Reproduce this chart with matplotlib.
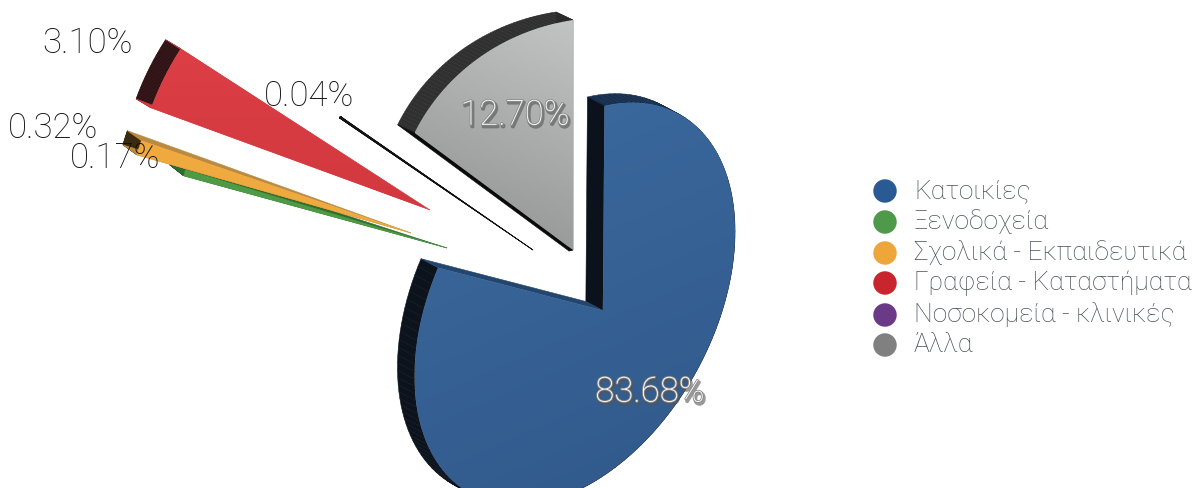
import numpy as np
import matplotlib
matplotlib.use("Agg")
import matplotlib.pyplot as plt
import matplotlib.patheffects as pe
from matplotlib.patches import Polygon
from matplotlib.colors import LinearSegmentedColormap

# Shares of building use, in percent
categories = ["Κατοικίες", "Ξενοδοχεία", "Σχολικά - Εκπαιδευτικά",
              "Γραφεία - Καταστήματα", "Νοσοκομεία - κλινικές", "Άλλα"]
values = [83.68, 0.17, 0.32, 3.10, 0.04, 12.70]
value_labels = ["83.68%", "0.17%", "0.32%", "3.10%", "0.04%", "12.70%"]
legend_colors = ["#2a5a94", "#4f9a4a", "#eea53a", "#c9252e", "#6a3a86", "#808080"]

W, H = 1193, 488
fig = plt.figure(figsize=(W / 100, H / 100), dpi=100)
ax = fig.add_axes([0, 0, 1, 1])
ax.set_axis_off()


def homography(src, dst):
    """Least-squares projective map from the pie plane to the canvas."""
    rows = []
    for (x, y), (u, v) in zip(src, dst):
        rows.append([x, y, 1, 0, 0, 0, -u * x, -u * y, -u])
        rows.append([0, 0, 0, x, y, 1, -v * x, -v * y, -v])
    return np.linalg.svd(np.array(rows))[2][-1].reshape(3, 3)


def clock(deg):
    a = np.radians(deg)
    return np.sin(a), np.cos(a)


# Camera for the main slice: where known plane directions land on the canvas
blue_end = values[0] * 3.6
camera = homography(
    [(0, 0), clock(0), clock(180), clock(blue_end), clock(blue_end - 180)],
    [(602, 310), (605, 106), (602, 477), (438, 268), (712, 339)],
)


def project(points):
    p = np.column_stack([points, np.ones(len(points))]) @ camera.T
    return p[:, :2] / p[:, 2:]


def gradient_fill(outline, c0, c1, direction, z):
    """Fill a polygon with a linear gradient running along `direction`."""
    x0, y0 = outline.min(axis=0)
    x1, y1 = outline.max(axis=0)
    xx, yy = np.meshgrid(np.linspace(0, 1, 64), np.linspace(0, 1, 64))
    grad = xx * direction[0] + yy * direction[1]
    grad = (grad - grad.min()) / (grad.max() - grad.min())
    cmap = LinearSegmentedColormap.from_list("fill", [c0, c1])
    im = ax.imshow(grad, extent=(x0, x1, y1, y0), cmap=cmap, origin="upper",
                   aspect="auto", zorder=z, interpolation="bilinear")
    patch = Polygon(outline, closed=True, transform=ax.transData,
                    facecolor="none", edgecolor="none")
    ax.add_patch(patch)
    im.set_clip_path(patch)


def quad(a, b, c, d, color, z):
    ax.add_patch(Polygon([a, b, c, d], closed=True, facecolor=color,
                         edgecolor=color, linewidth=0.4, zorder=z))


# Main slice: side walls first, then the gradient front
angles = np.linspace(0, blue_end, 160)
rim = project(np.column_stack(clock(angles)))
centre = project(np.array([[0.0, 0.0]]))[0]
depth = np.array([-17, -9])
for i in range(len(rim) - 1):
    shade = "#17304f" if angles[i] < 62 else "#0d131d"
    quad(rim[i], rim[i + 1], rim[i + 1] + depth, rim[i] + depth, shade, 3)
quad(centre, rim[0], rim[0] + depth, centre + depth, "#0c121c", 3.2)
quad(centre, rim[-1], rim[-1] + depth, centre + depth, "#23466f", 3.2)
gradient_fill(np.vstack([centre, rim]), "#3b6a9f", "#31588a", (0.35, 1), 4)


def exploded(value, tip, axis_deg, radii, spread):
    """Outline of a pulled-out slice; its opening follows the value."""
    half = value * 3.6 * spread / 2
    t = np.linspace(0, 1, 50)
    theta = np.radians(axis_deg - half + 2 * half * t)
    r = radii[0] + (radii[1] - radii[0]) * t
    return np.column_stack([tip[0] + r * np.cos(theta), tip[1] - r * np.sin(theta)])


def draw_slice(value, tip, axis_deg, radii, spread, rim_depth, tip_depth,
               face, wall_a, wall_b, rim_color, z):
    tip = np.array(tip, float)
    rim_pts = exploded(value, tip, axis_deg, radii, spread)
    far, near = np.array(rim_depth, float), np.array(tip_depth, float)
    for i in range(len(rim_pts) - 1):
        quad(rim_pts[i], rim_pts[i + 1], rim_pts[i + 1] + far, rim_pts[i] + far, rim_color, z)
    quad(tip, rim_pts[0], rim_pts[0] + far, tip + near, wall_a, z + 0.1)
    quad(tip, rim_pts[-1], rim_pts[-1] + far, tip + near, wall_b, z + 0.1)
    outline = np.vstack([tip, rim_pts])
    if isinstance(face, tuple):
        gradient_fill(outline, face[0], face[1], face[2], z + 0.2)
    else:
        ax.add_patch(Polygon(outline, closed=True, facecolor=face, edgecolor=face,
                             linewidth=0.3, zorder=z + 0.2))


# Remaining slices, clockwise from the end of the main slice
draw_slice(values[5], (573, 250), 116.75, (230, 197), 1.17, (-17, -8), (-4, 1),
           ("#c2c3c3", "#8e8f8f", (-0.3, 1)), "#2b2b2b", "#0a0a0a", "#2f302f", 5)
draw_slice(values[4], (533, 250), 145.5, (233, 233), 3.2, (-1, -1), (0, 0),
           "#111111", "#111111", "#111111", "#111111", 6)
draw_slice(values[3], (430, 210), 153.5, (297, 297), 1.147, (-15, -9), (0, 0),
           ("#dc3f45", "#d2383f", (0, 1)), "#d63a40", "#d63a40", "#2d0f12", 7)
draw_slice(values[1], (447, 248), 164.0, (273, 273), 2.2, (-14, -11), (0, 0),
           "#4f9a45", "#2f6e2e", "#2f6e2e", "#123018", 8)
draw_slice(values[2], (411, 233), 162.6, (285, 285), 2.6, (-14, -10), (0, 0),
           "#f0a93e", "#bb8a3e", "#bb8a3e", "#3a2a10", 9)

# Percentage labels
label_font = dict(family="Roboto", fontweight="light", fontsize=25,
                  ha="center", va="center", zorder=20)
for text, pos in zip(value_labels[1:5], [(115, 158), (53, 128), (88, 43), (309, 96)]):
    ax.text(*pos, text, color="#111111", **label_font)
halo = [pe.SimpleLineShadow(offset=(1, -1.5), shadow_color="#555555", alpha=0.6, linewidth=2.2),
        pe.withStroke(linewidth=1.2, foreground="#8a8a8a")]
ax.text(650, 392, value_labels[0], color="white", path_effects=halo, **label_font)
ax.text(515, 115, value_labels[5], color="white", path_effects=halo, **label_font)

# Legend
legend_y = [191, 222, 253, 283, 315, 345]
ax.scatter([885] * 6, legend_y, s=285, c=legend_colors, linewidths=0, zorder=20)
for name, y in zip(categories, legend_y):
    ax.text(914, y, name, family="Roboto", fontweight="light", fontsize=19,
            color="#4a5058", va="center", ha="left", zorder=20)

ax.set_xlim(0, W)
ax.set_ylim(H, 0)
fig.savefig("out.png", dpi=100, facecolor="white")
